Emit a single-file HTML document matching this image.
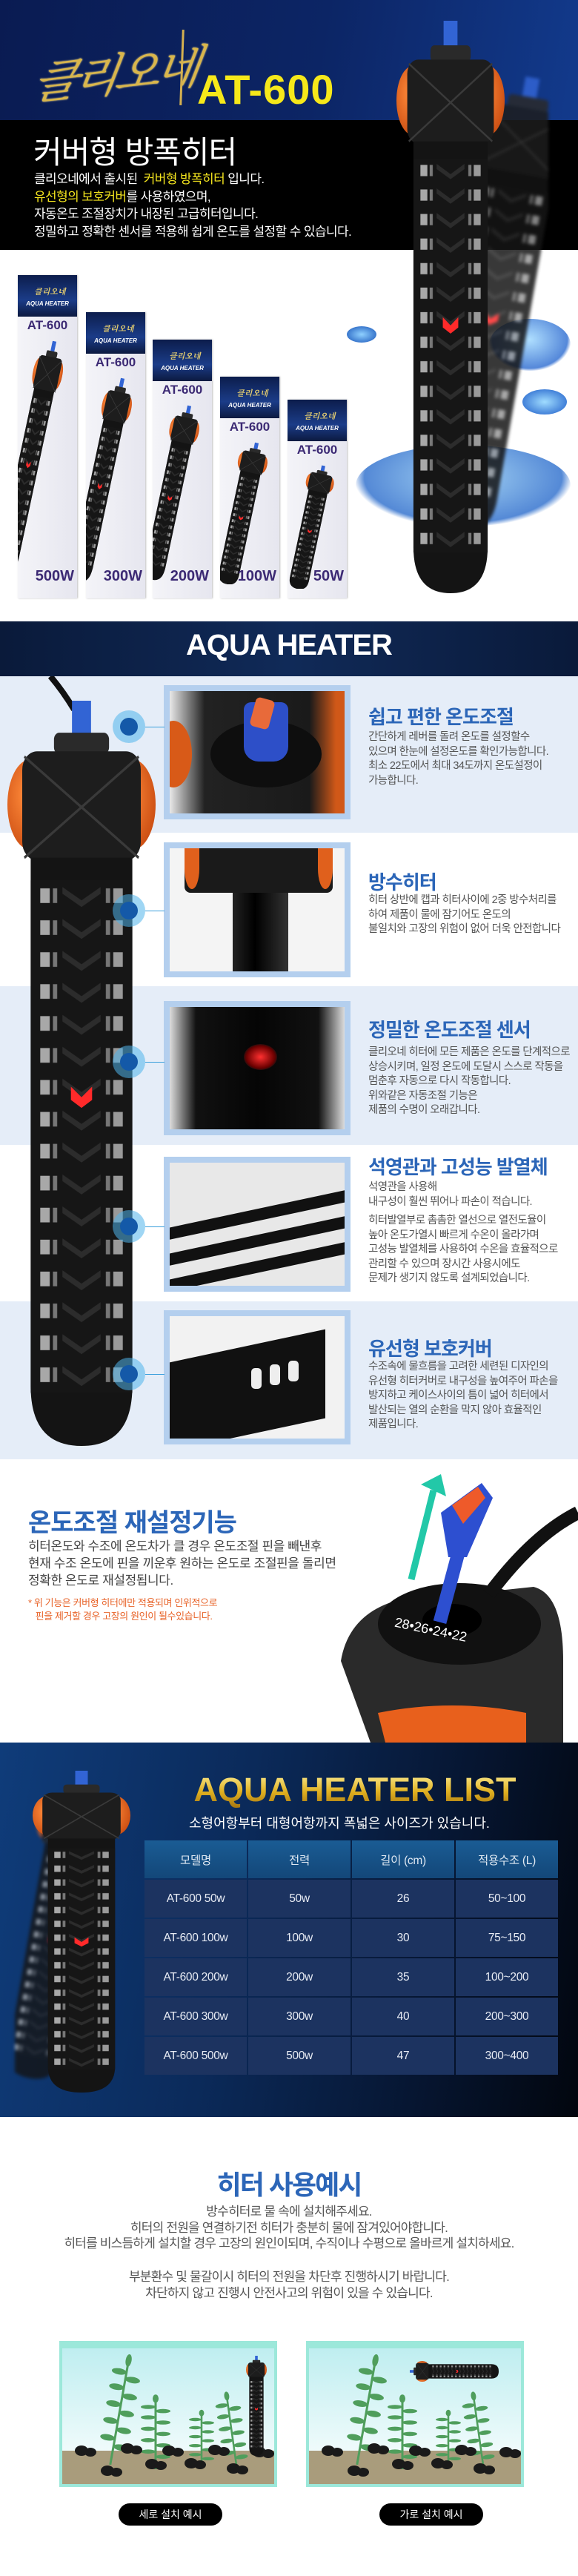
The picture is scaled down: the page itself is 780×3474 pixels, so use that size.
<!DOCTYPE html>
<html><head><meta charset="utf-8">
<style>
*{margin:0;padding:0;box-sizing:border-box}
body{width:780px;height:3474px;position:relative;background:#fff;font-family:"Liberation Sans","Noto Sans CJK KR",sans-serif;overflow:hidden}
.a{position:absolute}
.t{white-space:nowrap}
.ft{position:absolute;left:497px;color:#2c66b8;font-weight:bold;font-size:26px;letter-spacing:-1px;white-space:nowrap}
.fx{position:absolute;left:497px;color:#555;font-size:14.5px;line-height:19.5px;letter-spacing:-0.6px;white-space:nowrap}
.pb{position:absolute;left:221px;width:252px;border:8px solid #b4cfee;overflow:hidden}
.dot{position:absolute;left:152px;width:44px;height:44px;border-radius:50%;background:rgba(80,180,235,.55)}
.dot::after{content:"";position:absolute;left:10px;top:10px;width:24px;height:24px;border-radius:50%;background:#1459a8}
.ln{position:absolute;left:196px;width:26px;height:1px;background:#3a9fdc}
.box{position:absolute;width:80px;background:linear-gradient(90deg,#f4f4f8,#e6e6ef);overflow:hidden;box-shadow:1px 0 2px rgba(0,0,0,.25)}
.box .hd{height:56px;background:linear-gradient(180deg,#0c1d4c,#1b3c88 60%,#0c1a40);position:relative}
.box .hd i{position:absolute;left:0;right:0;top:34px;text-align:center;color:#fff;font-size:8px;font-weight:bold;font-style:italic}
.box .hd b{position:absolute;left:22px;top:14px;color:#e8d070;font-family:"Noto Serif CJK KR",serif;font-size:11px;font-style:italic}
.box .m{position:absolute;left:0;right:0;top:58px;text-align:center;color:#3c2a74;font-weight:bold;font-size:17px}
.box .w{position:absolute;right:4px;bottom:18px;color:#3c2a74;font-weight:bold;font-size:20px}
.box svg{position:absolute}
table{border-collapse:separate;border-spacing:2px}
td{width:138px;height:51px;text-align:center;color:#e8ecf4;font-size:15.5px;background:#1c3360;letter-spacing:-0.3px}
tr.h td{height:51px;background:linear-gradient(180deg,#1a5c94,#134779);color:#dfe8f2}
.btn{position:absolute;height:30px;width:140px;border-radius:15px;background:#000;color:#fff;font-size:14px;text-align:center;line-height:30px}
</style></head><body>

<svg width="0" height="0" style="position:absolute">
<defs>
<pattern id="sl" width="96" height="24" patternUnits="userSpaceOnUse" x="22" y="135">
<rect x="0" y="0" width="96" height="24" fill="#161616"/>
<rect x="9" y="6" width="9" height="11" fill="#a8a8a8"/>
<rect x="21" y="6" width="4" height="11" fill="#777"/>
<path d="M30 5 L48 15 L66 5 L66 10 L48 20 L30 10Z" fill="#2c2c2c"/>
<rect x="71" y="6" width="4" height="11" fill="#777"/>
<rect x="78" y="6" width="9" height="11" fill="#9a9a9a"/>
</pattern>
<radialGradient id="og" cx=".4" cy=".4" r=".7"><stop offset="0" stop-color="#ff8a3a"/><stop offset="1" stop-color="#c84a10"/></radialGradient>
<symbol id="ht" viewBox="0 0 140 560" preserveAspectRatio="none">
<rect x="61" y="0" width="18" height="30" fill="#3264d4"/>
<rect x="44" y="24" width="52" height="16" rx="5" fill="#2a2a2a"/>
<ellipse cx="22" cy="78" rx="22" ry="34" fill="url(#og)"/>
<ellipse cx="118" cy="78" rx="22" ry="34" fill="url(#og)"/>
<rect x="14" y="38" width="112" height="82" rx="14" fill="#1d1d1d"/>
<path d="M16 42 L70 80 L124 42 M16 118 L70 80 L124 118" stroke="#3a3a3a" stroke-width="2" fill="none"/>
<path d="M22 118 H118 V515 Q118 560 70 560 Q22 560 22 515Z" fill="#141414"/>
<rect x="22" y="135" width="96" height="385" fill="url(#sl)"/>
<path d="M60 290 L70 298 L80 290 L80 300 L70 306 L60 300Z" fill="#ff2a2a"/>
</symbol>
</defs>
</svg>

<!-- ===== Header ===== -->
<div class="a" style="left:0;top:0;width:780px;height:162px;background:linear-gradient(100deg,#0a1b52 0%,#0c2565 55%,#123a8c 100%)"></div>
<div class="a t" style="left:48px;top:52px;font-family:'Noto Serif CJK KR','Noto Serif CJK SC',serif;font-size:62px;font-style:italic;transform:skewX(-14deg) rotate(-6deg);color:#d9b64c;letter-spacing:-6px;text-shadow:0 0 2px #f8e08a">클리오네</div>
<div class="a" style="left:244px;top:40px;width:3px;height:102px;background:#d4b050;transform:rotate(2deg)"></div>
<div class="a t" style="left:266px;top:88px;color:#f6e81a;font-size:56px;font-weight:bold;letter-spacing:1px">AT-600</div>
<div class="a" style="left:0;top:162px;width:780px;height:175px;background:#000"></div>
<div class="a t" style="left:45px;top:172px;color:#fff;font-size:42px;letter-spacing:-1px">커버형 방폭히터</div>
<div class="a t" style="left:46px;top:230px;color:#fff;font-size:17px;line-height:23.5px;letter-spacing:-0.6px">클리오네에서 출시된 &nbsp;<span style="color:#f3e41e">커버형 방폭히터</span> 입니다.<br><span style="color:#f3e41e">유선형의 보호커버</span>를 사용하였으며,<br>자동온도 조절장치가 내장된 고급히터입니다.<br>정밀하고 정확한 센서를 적용해 쉽게 온도를 설정할 수 있습니다.</div>

<!-- water splash -->
<div class="a" style="left:480px;top:600px;width:290px;height:110px;border-radius:50%;background:radial-gradient(ellipse at 50% 40%,#8cc8f2,#2a6ccc 65%,rgba(255,255,255,0) 72%);opacity:.8"></div>
<div class="a" style="left:468px;top:440px;width:40px;height:22px;border-radius:50%;background:radial-gradient(#8fd0ff,#1552b8)"></div>
<div class="a" style="left:660px;top:430px;width:110px;height:70px;border-radius:50%;background:radial-gradient(ellipse at 50% 40%,#9ad6ff,#2a6ad0 65%,rgba(255,255,255,0) 72%);opacity:.8"></div>
<div class="a" style="left:705px;top:525px;width:60px;height:34px;border-radius:50%;background:radial-gradient(#a0dcff,#1a5ac8)"></div>
<!-- back blurred heater -->
<svg class="a" style="left:590px;top:100px;filter:blur(2px);opacity:.85" width="150" height="620"><use href="#ht" x="0" y="0" width="150" height="620" transform="rotate(10 75 310)"/></svg>
<!-- main heater -->
<svg class="a" style="left:535px;top:28px" width="146" height="772"><use href="#ht" x="0" y="0" width="146" height="772"/></svg>

<!-- boxes -->
<div class="box" style="left:24px;top:371px;height:436px"><div class="hd"><b>클리오네</b><i>AQUA HEATER</i></div><div class="m">AT-600</div><svg style="left:0;top:80px" width="80" height="330"><use href="#ht" width="40" height="320" transform="translate(30 5) rotate(12)"/></svg><div class="w">500W</div></div>
<div class="box" style="left:116px;top:421px;height:386px"><div class="hd"><b>클리오네</b><i>AQUA HEATER</i></div><div class="m">AT-600</div><svg style="left:0;top:80px" width="80" height="290"><use href="#ht" width="40" height="280" transform="translate(30 5) rotate(12)"/></svg><div class="w">300W</div></div>
<div class="box" style="left:206px;top:458px;height:349px"><div class="hd"><b>클리오네</b><i>AQUA HEATER</i></div><div class="m">AT-600</div><svg style="left:0;top:80px" width="80" height="250"><use href="#ht" width="40" height="240" transform="translate(30 5) rotate(12)"/></svg><div class="w">200W</div></div>
<div class="box" style="left:297px;top:508px;height:299px"><div class="hd"><b>클리오네</b><i>AQUA HEATER</i></div><div class="m">AT-600</div><svg style="left:0;top:80px" width="80" height="200"><use href="#ht" width="40" height="195" transform="translate(30 5) rotate(12)"/></svg><div class="w">100W</div></div>
<div class="box" style="left:388px;top:539px;height:268px"><div class="hd"><b>클리오네</b><i>AQUA HEATER</i></div><div class="m">AT-600</div><svg style="left:0;top:80px" width="80" height="175"><use href="#ht" width="38" height="170" transform="translate(30 5) rotate(12)"/></svg><div class="w">50W</div></div>

<!-- AQUA HEATER bar -->
<div class="a" style="left:0;top:838px;width:780px;height:74px;background:linear-gradient(90deg,#0a1a3a,#102a58 50%,#0a1a3a)"></div>
<div class="a t" style="left:0;top:848px;width:780px;text-align:center;color:#fff;font-size:40px;font-weight:bold;letter-spacing:-1px">AQUA HEATER</div>

<!-- ===== Features ===== -->
<div class="a" style="left:0;top:912px;width:780px;height:211px;background:#e5edf8"></div>
<div class="a" style="left:0;top:1330px;width:780px;height:214px;background:#e5edf8"></div>
<div class="a" style="left:0;top:1755px;width:780px;height:213px;background:#e5edf8"></div>

<svg class="a" style="left:60px;top:912px" width="60" height="60"><path d="M8 0 Q25 20 40 45" stroke="#111" stroke-width="8" fill="none"/></svg>
<svg class="a" style="left:10px;top:945px" width="200" height="1005"><use href="#ht" width="200" height="1005"/></svg>

<div class="pb" style="top:924px;height:181px;background:linear-gradient(90deg,#e8e8e8,#222 20%,#1a1a1a 80%,#d05818 95%)">
<div class="a" style="left:55px;top:40px;width:150px;height:90px;border-radius:50%;background:#0e0e0e"></div>
<div class="a" style="left:100px;top:15px;width:60px;height:80px;border-radius:10px 10px 20px 20px;background:#2d4fc8"></div>
<div class="a" style="left:112px;top:10px;width:26px;height:40px;border-radius:6px;background:#e86a3a;transform:rotate(15deg)"></div>
<div class="a" style="left:-20px;top:40px;width:50px;height:90px;border-radius:50%;background:#d85a18"></div>
</div>
<div class="pb" style="top:1136px;height:182px;background:#f4f4f4">
<div class="a" style="left:20px;top:0;width:200px;height:60px;background:#1a1a1a;border-radius:0 0 8px 8px"></div>
<div class="a" style="left:20px;top:0;width:20px;height:55px;border-radius:0 0 50% 50%;background:#e0601c"></div>
<div class="a" style="left:200px;top:0;width:20px;height:55px;border-radius:0 0 50% 50%;background:#e0601c"></div>
<div class="a" style="left:85px;top:60px;width:75px;height:110px;background:linear-gradient(90deg,#222,#000 40%,#333)"></div>
</div>
<div class="pb" style="top:1350px;height:181px;background:linear-gradient(90deg,#ddd,#111 15%,#050505 50%,#111 85%,#ddd)">
<div class="a" style="left:100px;top:50px;width:45px;height:35px;border-radius:50%;background:radial-gradient(#ff3030,#6a0000 60%,#111 75%)"></div>
</div>
<div class="pb" style="top:1560px;height:182px;background:#e8e8e8">
<div class="a" style="left:-20px;top:60px;width:300px;height:16px;background:#111;transform:rotate(-12deg)"></div>
<div class="a" style="left:-20px;top:95px;width:300px;height:16px;background:#111;transform:rotate(-12deg)"></div>
<div class="a" style="left:-20px;top:130px;width:300px;height:16px;background:#111;transform:rotate(-12deg)"></div>
</div>
<div class="pb" style="top:1767px;height:181px;background:#f2f2f2">
<div class="a" style="left:0;top:40px;width:210px;height:120px;background:#111;transform:skewY(-12deg)"></div>
<div class="a" style="left:110px;top:70px;width:14px;height:28px;background:#eee;border-radius:5px"></div>
<div class="a" style="left:135px;top:65px;width:14px;height:28px;background:#eee;border-radius:5px"></div>
<div class="a" style="left:160px;top:60px;width:14px;height:28px;background:#eee;border-radius:5px"></div>
</div>

<div class="dot" style="top:958px"></div><div class="ln" style="top:980px"></div>
<div class="dot" style="top:1206px"></div><div class="ln" style="top:1228px"></div>
<div class="dot" style="top:1410px"></div><div class="ln" style="top:1432px"></div>
<div class="dot" style="top:1632px"></div><div class="ln" style="top:1654px"></div>
<div class="dot" style="top:1831px"></div><div class="ln" style="top:1853px"></div>

<div class="ft" style="top:947px">쉽고 편한 온도조절</div>
<div class="fx" style="top:985px">간단하게 레버를 돌려 온도를 설정할수<br>있으며 한눈에 설정온도를 확인가능합니다.<br>최소 22도에서 최대 34도까지 온도설정이<br>가능합니다.</div>
<div class="ft" style="top:1170px">방수히터</div>
<div class="fx" style="top:1205px">히터 상반에 캡과 히터사이에 2중 방수처리를<br>하여 제품이 물에 잠기어도 온도의<br>불일치와 고장의 위험이 없어 더욱 안전합니다</div>
<div class="ft" style="top:1369px">정밀한 온도조절 센서</div>
<div class="fx" style="top:1410px">클리오네 히터에 모든 제품은 온도를 단계적으로<br>상승시키며, 일정 온도에 도달시 스스로 작동을<br>멈춘후 자동으로 다시 작동합니다.<br>위와같은 자동조절 기능은<br>제품의 수명이 오래갑니다.</div>
<div class="ft" style="top:1554px">석영관과 고성능 발열체</div>
<div class="fx" style="top:1592px">석영관을 사용해<br>내구성이 훨씬 뛰어나 파손이 적습니다.</div>
<div class="fx" style="top:1637px">히터발열부로 촘촘한 열선으로 열전도율이<br>높아 온도가열시 빠르게 수온이 올라가며<br>고성능 발열체를 사용하여 수온을 효율적으로<br>관리할 수 있으며 장시간 사용시에도<br>문제가 생기지 않도록 설계되었습니다.</div>
<div class="ft" style="top:1799px">유선형 보호커버</div>
<div class="fx" style="top:1834px">수조속에 물흐름을 고려한 세련된 디자인의<br>유선형 히터커버로 내구성을 높여주어 파손을<br>방지하고 케이스사이의 틈이 넓어 히터에서<br>발산되는 열의 순환을 막지 않아 효율적인<br>제품입니다.</div>

<!-- ===== Reset section ===== -->
<div class="a t" style="left:38px;top:2026px;color:#2c66b8;font-size:34px;font-weight:bold;letter-spacing:-1px">온도조절 재설정기능</div>
<div class="a t" style="left:38px;top:2074px;color:#444;font-size:17px;line-height:23px;letter-spacing:-0.4px">히터온도와 수조에 온도차가 클 경우 온도조절 핀을 빼낸후<br>현재 수조 온도에 핀을 끼운후 원하는 온도로 조절핀을 돌리면<br>정확한 온도로 재설정됩니다.</div>
<div class="a t" style="left:38px;top:2153px;color:#e8642a;font-size:13px;line-height:18px;letter-spacing:-0.4px">* 위 기능은 커버형 히터에만 적용되며 인위적으로<br>&nbsp;&nbsp;&nbsp;핀을 제거할 경우 고장의 원인이 될수있습니다.</div>
<svg class="a" style="left:460px;top:1980px" width="320" height="370">
<path d="M95 150 L125 30" stroke="#22c8a8" stroke-width="9"/>
<path d="M108 22 L135 8 L142 38Z" fill="#22c8a8"/>
<path d="M0 260 Q10 200 70 180 L260 160 Q300 170 300 260 L300 370 L40 370Z" fill="#2a2a2a"/>
<ellipse cx="160" cy="210" rx="110" ry="55" fill="#111"/>
<ellipse cx="150" cy="205" rx="40" ry="22" fill="#000"/>
<text x="70" y="230" fill="#fff" font-family="Liberation Sans" font-size="18" transform="rotate(12 150 230)">28•26•24•22</text>
<path d="M200 170 Q260 90 320 60" stroke="#111" stroke-width="18" fill="none"/>
<rect x="140" y="100" width="18" height="110" fill="#2d4fd0" transform="rotate(15 150 150)"/>
<path d="M135 60 L190 20 L205 40 L170 120 L145 120Z" fill="#2d4fd0"/>
<path d="M150 50 L185 25 L195 40 L165 75Z" fill="#ee5a2a"/>
<path d="M50 330 Q150 310 250 330 L250 370 L60 370Z" fill="#e8601c"/>
</svg>

<!-- ===== List ===== -->
<div class="a" style="left:0;top:2350px;width:780px;height:505px;background:linear-gradient(100deg,#0f3c7a 0%,#0b2a5a 40%,#061530 75%,#02060e 100%)"></div>
<svg class="a" style="left:20px;top:2395px;filter:blur(2px);opacity:.8" width="150" height="420"><use href="#ht" width="100" height="400" transform="translate(40 5) rotate(10)"/></svg>
<svg class="a" style="left:44px;top:2388px" width="132" height="434"><use href="#ht" width="132" height="434"/></svg>
<div class="a t" style="left:254px;top:2388px;width:450px;text-align:center;font-size:45px;font-weight:bold;letter-spacing:0;color:#e6c23a;background:linear-gradient(180deg,#fff2a0,#e0b020 55%,#a07010);-webkit-background-clip:text;background-clip:text;-webkit-text-fill-color:transparent">AQUA HEATER LIST</div>
<div class="a t" style="left:255px;top:2445px;color:#fff;font-size:18px;letter-spacing:0">소형어항부터 대형어항까지 폭넓은 사이즈가 있습니다.</div>
<table class="a" style="left:193px;top:2480px">
<tr class="h"><td>모델명</td><td>전력</td><td>길이 (cm)</td><td>적용수조 (L)</td></tr>
<tr><td>AT-600 50w</td><td>50w</td><td>26</td><td>50~100</td></tr>
<tr><td>AT-600 100w</td><td>100w</td><td>30</td><td>75~150</td></tr>
<tr><td>AT-600 200w</td><td>200w</td><td>35</td><td>100~200</td></tr>
<tr><td>AT-600 300w</td><td>300w</td><td>40</td><td>200~300</td></tr>
<tr><td>AT-600 500w</td><td>500w</td><td>47</td><td>300~400</td></tr>
</table>

<!-- ===== Usage ===== -->
<div class="a t" style="left:0;top:2918px;width:780px;text-align:center;color:#2c66b8;font-size:36px;font-weight:bold;letter-spacing:-2px">히터 사용예시</div>
<div class="a t" style="left:0;top:2972px;width:780px;text-align:center;color:#555;font-size:17px;line-height:21.5px;letter-spacing:-0.8px">방수히터로 물 속에 설치해주세요.<br>히터의 전원을 연결하기전 히터가 충분히 물에 잠겨있어야합니다.<br>히터를 비스듬하게 설치할 경우 고장의 원인이되며, 수직이나 수평으로 올바르게 설치하세요.</div>
<div class="a t" style="left:0;top:3060px;width:780px;text-align:center;color:#555;font-size:17px;line-height:21.5px;letter-spacing:-0.8px">부분환수 및 물갈이시 히터의 전원을 차단후 진행하시기 바랍니다.<br>차단하지 않고 진행시 안전사고의 위험이 있을 수 있습니다.</div>

<svg class="a" style="left:80px;top:3157px" width="294" height="197">
<defs><linearGradient id="wt" x1="0" y1="0" x2="0" y2="1"><stop offset="0" stop-color="#bfeef0"/><stop offset="1" stop-color="#fff"/></linearGradient>
<g id="pl" fill="#4f9e5c"><rect x="-1.5" y="0" width="3" height="140"/><ellipse cx="-10" cy="20" rx="10" ry="4"/><ellipse cx="10" cy="28" rx="10" ry="4"/><ellipse cx="-10" cy="40" rx="10" ry="4"/><ellipse cx="10" cy="50" rx="10" ry="4"/><ellipse cx="-10" cy="62" rx="10" ry="4"/><ellipse cx="10" cy="72" rx="10" ry="4"/><ellipse cx="-10" cy="84" rx="10" ry="4"/><ellipse cx="10" cy="94" rx="10" ry="4"/><ellipse cx="-10" cy="106" rx="10" ry="4"/><ellipse cx="10" cy="116" rx="10" ry="4"/><ellipse cx="0" cy="4" rx="4" ry="8"/></g>
<g id="st" fill="#1a1a1a"><ellipse cx="0" cy="0" rx="9" ry="7"/><ellipse cx="12" cy="2" rx="8" ry="6"/></g>
<g id="tank"><rect x="0" y="0" width="294" height="197" fill="#9ce8da"/><rect x="4" y="10" width="286" height="183" fill="url(#wt)"/><rect x="4" y="148" width="286" height="45" fill="#a99c7c"/>
<use href="#pl" transform="translate(70 20) rotate(10 0 140) scale(1 1.05)"/><use href="#pl" transform="translate(130 75) scale(1 .7)"/><use href="#pl" transform="translate(192 95) scale(.85 .55)"/><use href="#pl" transform="translate(245 70) rotate(-8 0 140) scale(.85 .75)"/>
<use href="#st" x="30" y="148"/><use href="#st" x="92" y="145"/><use href="#st" x="148" y="148"/><use href="#st" x="210" y="147"/><use href="#st" x="270" y="150"/><use href="#st" x="65" y="175"/><use href="#st" x="125" y="166"/><use href="#st" x="178" y="165"/><use href="#st" x="235" y="172"/></g></defs>
<use href="#tank"/>
<use href="#ht" x="252" y="20" width="28" height="135"/>
</svg>
<svg class="a" style="left:413px;top:3157px" width="294" height="197">
<use href="#tank"/>
<use href="#ht" width="28" height="120" transform="translate(140 55) rotate(-90)"/>
</svg>
<div class="btn" style="left:160px;top:3376px">세로 설치 예시</div>
<div class="btn" style="left:512px;top:3376px">가로 설치 예시</div>
</body></html>
